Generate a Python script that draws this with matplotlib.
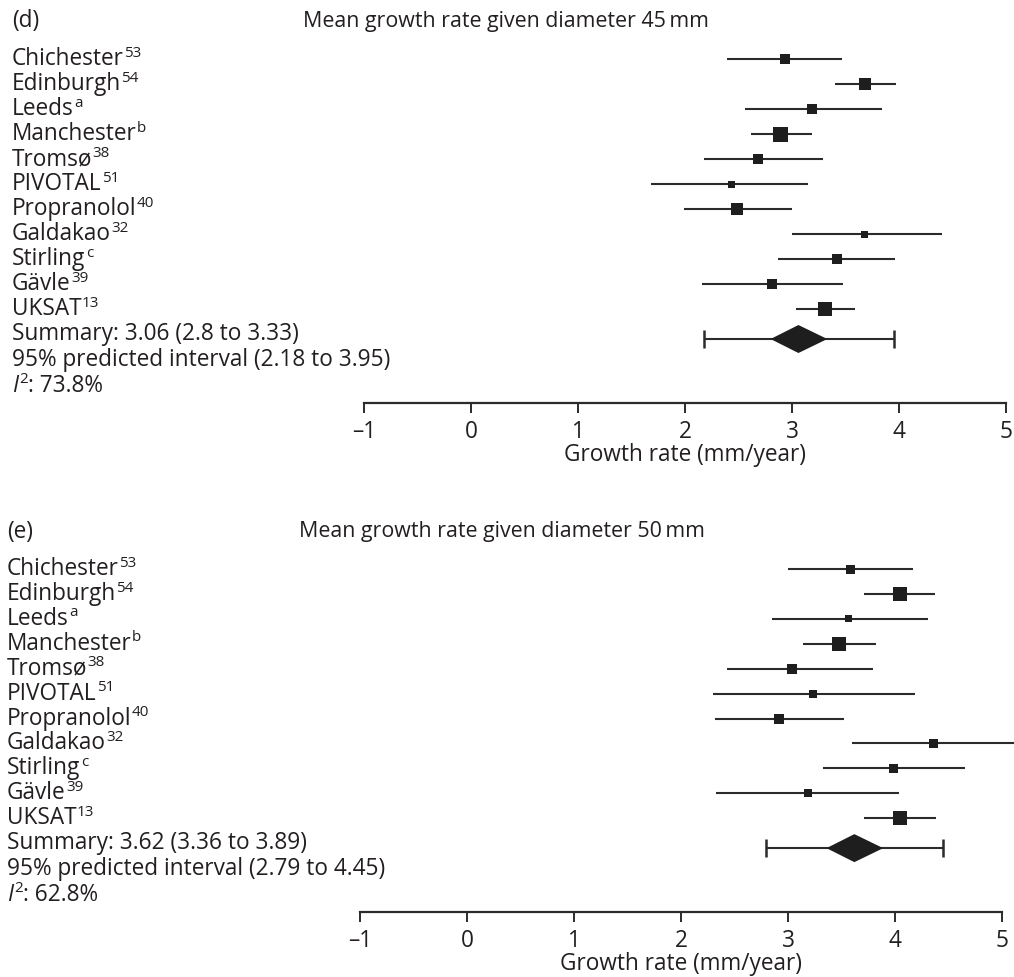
import numpy as np
import matplotlib
matplotlib.use("Agg")
import matplotlib.pyplot as plt
from matplotlib.transforms import blended_transform_factory

plt.rcParams['font.family'] = ['Open Sans', 'DejaVu Sans']

# ---------------- data ----------------
studies = ['Chichester', 'Edinburgh', 'Leeds', 'Manchester', 'Tromsø', 'PIVOTAL',
           'Propranolol', 'Galdakao', 'Stirling', 'Gävle', 'UKSAT']
refs = ['53', '54', 'a', 'b', '38', '51', '40', '32', 'c', '39', '13']

# (d) diameter 45 mm
mean_d = [2.93, 3.68, 3.19, 2.89, 2.68, 2.43, 2.49, 3.68, 3.42, 2.81, 3.31]
lo_d = [2.39, 3.40, 2.56, 2.62, 2.18, 1.68, 1.99, 3.00, 2.87, 2.16, 3.04]
hi_d = [3.47, 3.97, 3.84, 3.19, 3.29, 3.15, 3.00, 4.40, 3.96, 3.48, 3.59]
weight_d = [10, 12, 10, 15, 10, 7, 12, 7, 10, 10, 14]
summary_d = [3.06, 2.80, 3.33]
pred_d = [2.18, 3.95]
i2_d = 73.8

# (e) diameter 50 mm
mean_e = [3.58, 4.05, 3.57, 3.48, 3.04, 3.23, 2.92, 4.36, 3.99, 3.19, 4.05]
lo_e = [3.00, 3.71, 2.85, 3.14, 2.43, 2.30, 2.32, 3.60, 3.33, 2.33, 3.71]
hi_e = [4.17, 4.37, 4.31, 3.82, 3.79, 4.19, 3.52, 5.12, 4.65, 4.04, 4.38]
weight_e = [9, 14, 7, 14, 10, 8, 10, 9, 9, 8, 14]
summary_e = [3.62, 3.36, 3.89]
pred_e = [2.79, 4.45]
i2_e = 62.8

xticks = [-1, 0, 1, 2, 3, 4, 5]
xticklabels = ['–1', '0', '1', '2', '3', '4', '5']
xlabel = 'Growth rate (mm/year)'

# ---------------- figure ----------------
W, H = 1014, 977
fig = plt.figure(figsize=(W / 100, H / 100), dpi=100)
INK = '#231f20'
LINE = '#2b2b2b'
FS = 16.3
FS_SUP = 11.0
FS_TITLE = 15.4


def sup_label(ax, x, y, tr, name, sup):
    t = ax.text(x, y, name, transform=tr, fontsize=FS, color=INK, va='center', ha='left')
    ax.annotate(sup, xy=(1, 0.6), xycoords=t, xytext=(0.2, 0), textcoords='offset points',
                fontsize=FS_SUP, color=INK, va='baseline', ha='left')
    return t


def panel(letter, title, mean, lo, hi, weight, summ, pred, i2,
          left_px, right_px, top_px, spine_px, row0_px, label_x_px, title_x_px, title_y_px):
    n = len(mean)
    rows = np.arange(n)
    ax = fig.add_axes([left_px / W, 1 - spine_px / H, (right_px - left_px) / W,
                       (spine_px - top_px) / H])
    step = (spine_px - row0_px) / 13.75
    ax.set_ylim((spine_px - row0_px) / step, (top_px - row0_px) / step)
    ax.set_xlim(-1, 5)
    for s in ['left', 'right', 'top']:
        ax.spines[s].set_visible(False)
    ax.spines['bottom'].set_linewidth(1.6)
    ax.spines['bottom'].set_color(LINE)
    ax.set_yticks([])
    ax.set_xticks(xticks)
    ax.set_xticklabels(xticklabels)
    ax.tick_params(axis='x', direction='out', length=7.5, width=1.4, color=LINE,
                   labelsize=FS, labelcolor=INK, pad=5)
    ax.set_xlabel(xlabel, fontsize=FS, color=INK)
    ax.xaxis.set_label_coords(0.5, -52 / (spine_px - top_px))
    ax.xaxis.label.set_va('center')

    # study CIs and squares
    ax.hlines(rows, lo, hi, color=LINE, lw=1.5, clip_on=False, zorder=2)
    ax.scatter(mean, rows, s=(np.array(weight) * 0.72) ** 2, marker='s',
               color='#1e1e1e', linewidths=0, zorder=3, clip_on=False)

    # summary: predicted interval + diamond
    ys = n + 0.2
    ax.errorbar([summ[0]], [ys], xerr=[[summ[0] - pred[0]], [pred[1] - summ[0]]],
                fmt='none', ecolor=LINE, elinewidth=1.5, capsize=6.5, capthick=1.8, zorder=2)
    hh = 14 / step
    ax.fill([summ[1], summ[0], summ[2], summ[0]], [ys, ys - hh, ys, ys + hh],
            color='#1e1e1e', lw=0, zorder=3)

    # left labels
    tr = blended_transform_factory(fig.transFigure, ax.transData)
    lx = label_x_px / W
    for i, (nm, rf) in enumerate(zip(studies, refs)):
        sup_label(ax, lx, i, tr, nm, rf)
    ax.text(lx, n, f'Summary: {summ[0]:.2f} ({summ[1]:g} to {summ[2]:g})', transform=tr,
            fontsize=FS, color=INK, va='center', ha='left')
    ax.text(lx, n + 1.05, f'95% predicted interval ({pred[0]:.2f} to {pred[1]:.2f})',
            transform=tr, fontsize=FS, color=INK, va='center', ha='left')
    ti = ax.text(lx, n + 2.07, 'I', transform=tr, fontsize=FS, color=INK,
                 va='center', ha='left', style='italic')
    t2 = ax.annotate('2', xy=(1, 0.6), xycoords=ti, xytext=(0.6, 0),
                     textcoords='offset points', fontsize=FS_SUP, color=INK,
                     va='baseline', ha='left')
    ax.annotate(f': {i2:.1f}%', xy=(1, 0.5), xycoords=(t2, ti), xytext=(0, 0),
                textcoords='offset points', fontsize=FS, color=INK, va='center', ha='left')

    fig.text(label_x_px / W, 1 - title_y_px / H, letter, fontsize=FS, color=INK,
             va='center', ha='left')
    fig.text(title_x_px / W, 1 - title_y_px / H, title, fontsize=FS_TITLE, color=INK,
             va='center', ha='left')
    return ax


panel('(d)', 'Mean growth rate given diameter 45\u2009mm', mean_d, lo_d, hi_d, weight_d,
      summary_d, pred_d, i2_d, 364, 1006, 40, 402.7, 59.3, 12, 303, 21)
panel('(e)', 'Mean growth rate given diameter 50\u2009mm', mean_e, lo_e, hi_e, weight_e,
      summary_e, pred_e, i2_e, 360, 1002, 550, 911.7, 569, 7, 299, 532)

fig.savefig('out.png', dpi=100, facecolor='white')
